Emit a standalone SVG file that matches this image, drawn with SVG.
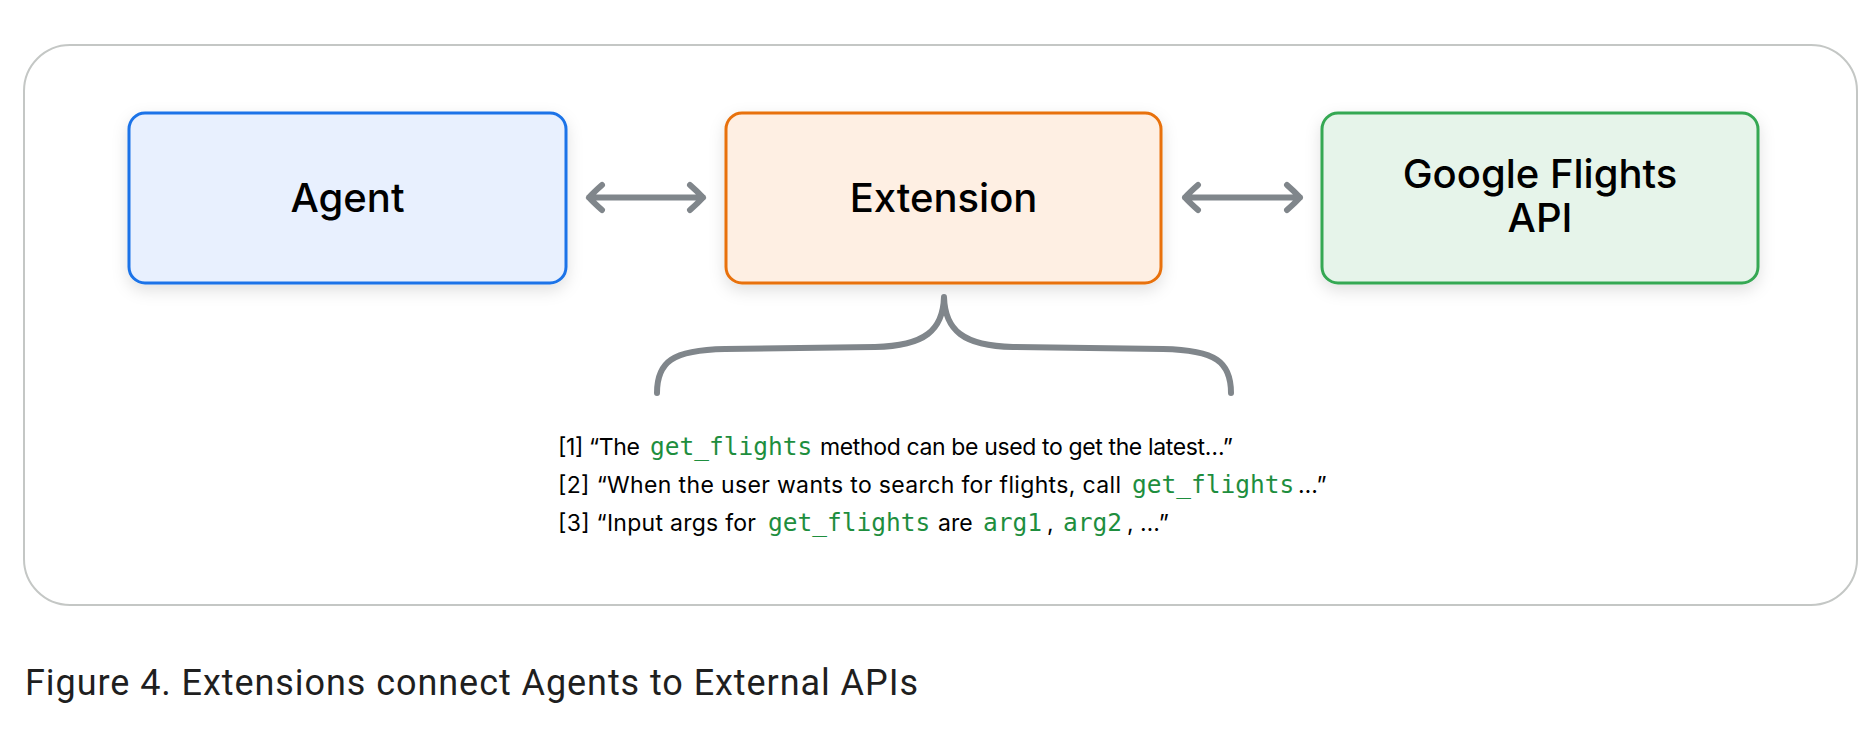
<svg xmlns="http://www.w3.org/2000/svg" width="1872" height="742" viewBox="0 0 1872 742">
<defs>
<filter id="sh" x="-10%" y="-20%" width="120%" height="150%">
<feDropShadow dx="0" dy="6" stdDeviation="8" flood-color="#000" flood-opacity="0.12"/>
</filter>
<style>
.box{stroke-width:3}
.lbl{font-family:Inter,"Noto Sans","Liberation Sans",sans-serif;font-size:40px;font-weight:500;fill:#000;text-anchor:middle}
.t{font-family:Inter,"Noto Sans","Liberation Sans",sans-serif;font-size:23px;fill:#000}
.m{font-family:"DejaVu Sans Mono","Liberation Mono",monospace;font-size:24.5px;fill:#1e8e3e}
.conn{fill:none;stroke:#80868b;stroke-width:6;stroke-linecap:round;stroke-linejoin:round}
.cap{font-family:Roboto,"Liberation Sans",sans-serif;font-size:36px;fill:#1f1f1f}
</style>
</defs>
<rect width="1872" height="742" fill="#fff"/>
<rect id="frame" x="24" y="45" width="1833" height="560" rx="46" fill="#fff" stroke="#c4c7c5" stroke-width="2"/>
<g id="agent">
<rect class="box" x="129" y="113" width="437" height="170" rx="16" fill="#e8f0fe" stroke="#1a73e8" filter="url(#sh)"/>
<text class="lbl" x="347.5" y="212">Agent</text>
</g>
<g id="extension">
<rect class="box" x="726" y="113" width="435" height="170" rx="16" fill="#feefe3" stroke="#e8710a" filter="url(#sh)"/>
<text class="lbl" x="943.5" y="212">Extension</text>
</g>
<g id="flights-api">
<rect class="box" x="1322" y="113" width="436" height="170" rx="16" fill="#e6f4ea" stroke="#34a853" filter="url(#sh)"/>
<text class="lbl" x="1540" y="188">Google Flights</text>
<text class="lbl" x="1540" y="232">API</text>
</g>
<g id="connectors">
<path class="conn" d="M589,197.5 L703,197.5 M602,185 Q594,192 589,197.5 Q594,203 602,210 M690,185 Q698,192 703,197.5 Q698,203 690,210"/>
<path class="conn" d="M1185,197.5 L1300,197.5 M1198,185 Q1190,192 1185,197.5 Q1190,203 1198,210 M1287,185 Q1295,192 1300,197.5 Q1295,203 1287,210"/>
<path class="conn" stroke-width="5.5" stroke-linecap="butt" d="M657,393 C657,362 672,350 725,349 L875,347 C925,346 943,330 944,297 C945,330 963,346 1013,347 L1163,349 C1216,350 1231,362 1231,393"/>
</g>
<g id="descriptions">
<text y="455"><tspan class="t" x="558" textLength="82" lengthAdjust="spacing">[1] “The</tspan><tspan class="m" x="650">get_flights</tspan><tspan class="t" x="820" textLength="413" lengthAdjust="spacing">method can be used to get the latest…”</tspan></text>
<text y="493"><tspan class="t" x="558" textLength="563" lengthAdjust="spacing">[2] “When the user wants to search for flights, call</tspan><tspan class="m" x="1132">get_flights</tspan><tspan class="t" x="1298">…”</tspan></text>
<text y="531"><tspan class="t" x="558" textLength="198" lengthAdjust="spacing">[3] “Input args for</tspan><tspan class="m" x="768">get_flights</tspan><tspan class="t" x="938">are</tspan><tspan class="m" x="983">arg1</tspan><tspan class="t" x="1047">,</tspan><tspan class="m" x="1063">arg2</tspan><tspan class="t" x="1127">, …”</tspan></text>
</g>
<text id="caption" class="cap" x="25" y="695" textLength="893" lengthAdjust="spacing">Figure 4. Extensions connect Agents to External APIs</text>
</svg>
